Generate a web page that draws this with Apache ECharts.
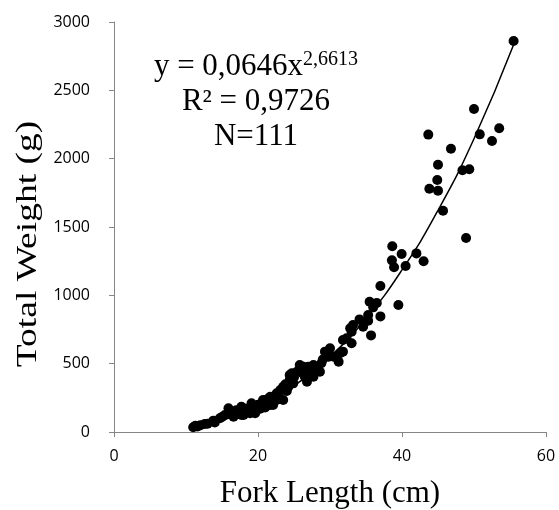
<!DOCTYPE html>
<html>
<head>
<meta charset="utf-8">
<script src="https://cdn.jsdelivr.net/npm/echarts@6/dist/echarts.min.js"></script>
<style>html,body{margin:0;padding:0;background:#fff}#c{width:559px;height:510px}</style>
</head>
<body>
<div id="c"></div>
<script>
const forkLength = [
  55.5, 50.0, 43.65, 50.8, 53.5, 52.5, 46.8, 45.0, 48.4, 49.35, 44.9, 43.8, 45.0, 45.7, 48.9,
  38.65, 39.95, 42.0, 43.0, 38.6, 38.9, 40.5, 37.0, 35.5, 36.5, 36.0, 39.5, 37.0, 35.3, 34.1,
  33.2, 33.0, 34.6, 35.7, 33.0,
  35.3, 32.8, 32.3, 31.8, 31.8, 30.0, 29.3, 29.8, 31.4, 31.2, 28.8, 27.7, 27.0, 26.3, 30.5,
  28.6, 27.7, 26.8, 26.5, 25.8, 25.4, 24.7, 24.4, 24.4, 24.9, 26.2, 27.3, 28.2, 25.0, 29.0,
  11.0, 11.3, 11.6, 12.6, 13.8, 14.7, 15.9, 15.4, 16.6, 17.7, 17.7, 19.1, 18.9, 19.8, 20.7,
  21.7, 21.7, 22.6, 23.5, 23.1, 23.5, 22.6, 22.1, 20.7, 19.35, 18.0, 19.6, 16.0, 17.0, 18.3,
  20.0, 21.0, 22.0, 24.0, 23.8, 14.0, 13.0, 12.0, 15.0, 16.8, 18.6, 20.3, 21.3, 22.9, 24.2, 19.0
];
const totalWeight = [
  2861, 2363, 2176, 2178, 2222, 2129, 2073, 1956, 1915, 1922, 1844, 1780, 1766, 1619, 1419,
  1359, 1302, 1307, 1249, 1256, 1205, 1215, 1068, 953, 944, 912, 929, 846, 814, 824,
  783, 734, 771, 707, 649,
  856, 759, 686, 673, 588, 612, 588, 551, 576, 514, 503, 490, 478, 478, 551,
  441, 405, 368, 405, 490, 441, 429, 380, 417, 356, 430, 445, 470, 400, 530,
  35, 45, 40, 58, 83, 100, 173, 124, 112, 185, 124, 210, 137, 161, 234,
  258, 198, 234, 234, 307, 331, 283, 198, 222, 185, 124, 137, 150, 160, 170,
  200, 180, 220, 300, 350, 70, 60, 50, 110, 140, 150, 170, 240, 260, 330, 175
];
// Power trend line, read at a few lengths
const trendLength = [11, 15, 20, 25, 30, 35, 40, 45, 50, 55.5];
const trendWeight = [38, 87, 187, 339, 551, 831, 1186, 1622, 2146, 2833];

const xTicks = [0, 20, 40, 60];
const yTicks = [0, 500, 1000, 1500, 2000, 2500, 3000];

const scatterData = forkLength.map((x, i) => [x, totalWeight[i]]);
const trendData = trendLength.map((x, i) => [x, trendWeight[i]]);

const chart = echarts.init(document.getElementById('c'), null, {renderer: 'canvas'});
const axisColor = '#868686';
chart.setOption({
  animation: false,
  backgroundColor: '#fff',
  grid: {left: 114, right: 13, top: 22, bottom: 78, outerBoundsMode: 'none', containLabel: false},
  xAxis: {
    type: 'value', min: xTicks[0], max: xTicks[xTicks.length - 1], interval: 20,
    name: 'Fork Length (cm)', nameLocation: 'middle', nameGap: 46,
    nameTextStyle: {fontFamily: 'Liberation Serif', fontSize: 31, color: '#000'},
    axisLine: {show: true, lineStyle: {color: axisColor, width: 1}},
    axisTick: {show: true, length: 5, lineStyle: {color: axisColor}},
    axisLabel: {margin: 16, fontFamily: 'Open Sans', fontSize: 16, color: '#000',
      formatter: v => String(v)},
    splitLine: {show: false}
  },
  yAxis: {
    type: 'value', min: yTicks[0], max: yTicks[yTicks.length - 1], interval: 500,
    axisLine: {show: true, lineStyle: {color: axisColor, width: 1}},
    axisTick: {show: true, length: 5, lineStyle: {color: axisColor}},
    axisLabel: {margin: 24, fontFamily: 'Open Sans', fontSize: 16, color: '#000',
      formatter: v => String(v)},
    splitLine: {show: false}
  },
  graphic: [{
    type: 'text', x: 256, y: 49,
    style: {
      text: '{a|y = 0,0646x}{s|2,6613}\n{a|R² = 0,9726}\n{a|N=111}',
      textAlign: 'center', textVerticalAlign: 'top',
      fill: '#000',
      rich: {
        a: {fontFamily: 'Liberation Serif', fontSize: 31, lineHeight: 35, fill: '#000'},
        s: {fontFamily: 'Liberation Serif', fontSize: 20, lineHeight: 35, padding: [0, 0, 14, 0], fill: '#000'}
      }
    }
  }, {
    type: 'group', x: 28, y: 244, rotation: Math.PI / 2,
    children: [{
      type: 'text', x: 0, y: 0, scaleX: 1.25, scaleY: 1,
      style: {
        text: 'Total Weight (g)',
        textAlign: 'center', textVerticalAlign: 'middle',
        fontFamily: 'Liberation Serif', fontSize: 30, fill: '#000'
      }
    }]
  }],
  series: [
    {
      type: 'scatter', data: scatterData, symbol: 'circle', symbolSize: 10,
      itemStyle: {color: '#000', opacity: 1}, z: 3
    },
    {
      type: 'line', data: trendData, smooth: true, showSymbol: false, symbol: 'none',
      lineStyle: {color: '#000', width: 1.5}, z: 4
    }
  ]
});
</script>
</body>
</html>
